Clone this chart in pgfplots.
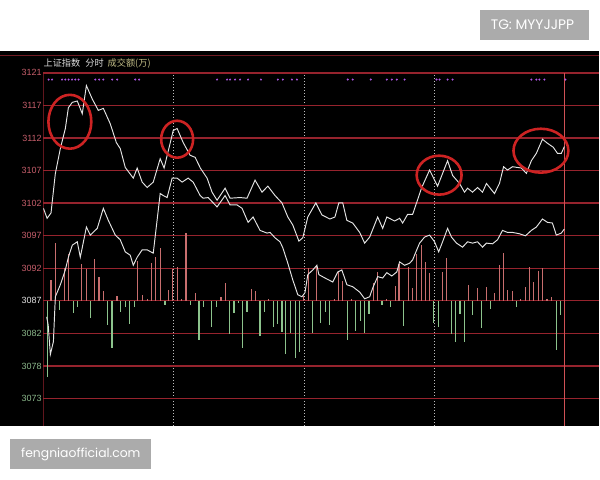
\documentclass[border=0pt]{standalone}
\usepackage{pgfplots}
\pgfplotsset{compat=1.18}
\usepackage{fontspec}
\setmainfont{Liberation Sans}
\newfontfamily\cjk{Noto Sans CJK SC}
\newfontfamily\wm{Poppins}

\definecolor{gridred}{RGB}{150,35,45}
\definecolor{basered}{RGB}{200,50,55}
\definecolor{labred}{RGB}{200,95,108}
\definecolor{labgreen}{RGB}{140,185,140}
\definecolor{barred}{RGB}{200,110,110}
\definecolor{bargreen}{RGB}{140,195,140}
\definecolor{dotpurple}{RGB}{175,85,230}
\definecolor{khaki}{RGB}{195,190,135}
\definecolor{wmgray}{RGB}{171,171,171}
\definecolor{linew}{RGB}{228,228,228}
\definecolor{ringred}{RGB}{205,35,35}

\begin{document}
\begin{tikzpicture}[x=1pt,y=1pt]
% page and black screen
\fill[white] (0,0) rectangle (600,480);
\fill[black] (0,53) rectangle (600,429);
\draw[gridred!75!black, line width=1pt] (0,424.5) -- (600,424.5);

% volume bars, grid and price labels (offsets from 3087)
\begin{axis}[
    at={(43pt,53pt)}, anchor=south west, scale only axis,
    width=557pt, height=354pt,
    xmin=0, xmax=256.1, ymin=-18.7, ymax=34,
    axis line style={draw=none}, major tick length=0pt,
    xtick={60,120,180}, xticklabels={},
    xmajorgrids, x grid style={gray!50, line width=0.7pt, dash pattern=on 1pt off 2pt},
    ytick={-14.571,-9.714,-4.857,4.857,9.714,14.571,19.429,24.286,29.143,34},
    yticklabels={\textcolor{labgreen}{3073},\textcolor{labgreen}{3078},\textcolor{labgreen}{3082},
      \textcolor{labred}{3092},\textcolor{labred}{3097},\textcolor{labred}{3102},\textcolor{labred}{3107},
      \textcolor{labred}{3112},\textcolor{labred}{3117},\textcolor{labred}{3121}},
    extra y ticks={0}, extra y tick labels={\textcolor{linew}{3087}},
    extra y tick style={major grid style={basered, line width=1.4pt}},
    ymajorgrids, y grid style={gridred, line width=1.4pt},
    yticklabel style={font=\fontsize{9}{9}\selectfont, inner sep=1.5pt},
    /pgf/number format/assume math mode=true,
]
\draw[gridred, line width=1.3pt] (rel axis cs:0,0) -- (rel axis cs:0,1);
\draw[basered!85, line width=1.2pt] (axis cs:240,-18.7) -- (axis cs:240,34);
\addplot[ycomb, barred, line width=1.1pt] coordinates {
(3.5,3.1) (5.5,8.6) (9.8,4.9) (11.6,7.0) (17.6,5.5) (19.8,4.8) (23.6,6.2) (25.6,3.6)
(27.7,1.4) (33.9,0.7) (43.5,6.0) (45.8,0.9) (47.8,0.3) (50.0,5.6) (51.6,6.5) (53.8,7.9)
(57.8,1.6) (59.6,4.8) (61.7,5.0) (63.8,0.3) (65.7,10.1) (69.9,1.2) (81.8,0.6) (83.7,2.7)
(96.0,1.8) (97.8,1.4) (103.8,0.3) (120.0,0.7) (122.0,4.9) (125.8,5.3) (133.9,0.3)
(135.8,4.5) (137.8,3.0) (141.9,0.3) (151.9,2.7) (153.9,4.3) (158.0,0.3) (162.0,2.2)
(163.8,5.5) (168.0,5.0) (170.0,1.9) (171.8,7.0) (174.1,8.3) (176.1,5.8) (177.9,4.2)
(183.9,4.3) (185.9,6.4) (196.0,2.4) (200.0,1.9) (204.0,2.1) (208.0,1.2) (210.1,5.3)
(212.0,7.1) (214.0,1.6) (216.1,1.4) (219.9,0.2) (221.9,2.1) (223.9,5.0) (225.9,2.8)
(227.9,4.5) (230.0,4.9) (232.0,0.3) (234.0,0.6)
};
\addplot[ycomb, bargreen, line width=1.1pt] coordinates {
(1.7,-11.3) (7.5,-1.3) (13.7,-1.8) (15.8,-0.9) (21.7,-2.5) (29.7,-3.6) (31.6,-7.0)
(35.7,-1.6) (37.7,-0.9) (39.7,-3.4) (41.8,-0.9) (56.0,-0.6) (67.9,-0.6) (71.7,-5.8)
(73.7,-0.9) (77.6,-3.9) (79.9,-0.9) (85.8,-4.9) (87.8,-1.8) (90.0,-0.3) (91.8,-7.0)
(93.8,-1.6) (99.8,-5.2) (101.9,-1.6) (105.9,-3.9) (107.9,-3.4) (109.9,-4.6) (111.7,-7.9)
(113.9,-4.8) (116.0,-8.5) (117.8,-7.7) (123.8,-4.8) (127.8,-3.3) (130.0,-1.6) (132.0,-3.6)
(139.9,-5.9) (143.9,-4.5) (146.1,-3.0) (148.0,-4.8) (150.0,-1.9) (156.0,-0.6) (160.0,-0.9)
(166.0,-3.7) (179.9,-3.3) (182.1,-3.9) (187.9,-4.9) (190.0,-6.1) (191.9,-1.9) (194.0,-6.2)
(197.8,-2.1) (202.0,-4.0) (206.0,-1.2) (217.9,-0.9) (236.2,-7.4) (238.2,-2.1)
};
\end{axis}

% price lines
\begin{axis}[
    at={(43pt,53pt)}, anchor=south west, scale only axis,
    width=557pt, height=354pt,
    xmin=0, xmax=256.1, ymin=3068.3, ymax=3121, hide axis,
]
\addplot[linew, line width=0.95pt] coordinates {
(0,3100.8) (1.7,3099.3) (3.5,3100.1) (5.5,3106.0) (7.8,3109.7) (10.1,3112.7) (11.5,3115.8)
(13.3,3116.6) (15.6,3116.8) (17.9,3114.9) (19.8,3119.1) (22.5,3117.1) (25.3,3115.4)
(27.6,3115.7) (30.8,3113.4) (33.6,3110.6) (35.4,3109.7) (37.7,3106.9) (41.4,3105.3)
(43.2,3106.8) (45.5,3104.7) (47.8,3103.9) (50.6,3104.7) (53.8,3108.2) (55.6,3106.8)
(59.8,3112.4) (61.6,3112.7) (64.4,3110.6) (67.6,3108.7) (69.9,3108.4) (72.3,3106.8)
(75.4,3105.3) (77.7,3103.2) (80.0,3102.0) (83.7,3103.8) (86.0,3102.3) (90.6,3102.4)
(93.8,3102.3) (97.5,3105.0) (100.7,3103.2) (103.4,3104.1) (106.7,3102.7) (109.9,3101.6)
(112.6,3099.5) (114.9,3098.3) (117.7,3095.9) (119.5,3096.4) (121.8,3099.5) (125.5,3101.6)
(128.3,3099.8) (132.0,3099.2) (134.3,3099.5) (136.1,3101.6) (137.9,3101.6) (139.8,3099.0)
(142.5,3098.6) (145.7,3097.2) (148.0,3095.6) (150.3,3096.5) (154.0,3099.5) (156.3,3097.8)
(158.2,3099.5) (161.8,3098.9) (164.1,3099.3) (165.5,3098.6) (167.8,3099.9) (170.1,3099.9)
(172.0,3101.7) (174.3,3103.9) (177.9,3106.5) (181.6,3104.1) (186.2,3107.9) (188.5,3105.7)
(191.7,3104.5) (194.0,3103.2) (195.4,3103.8) (197.7,3103.2) (200.0,3103.9) (202.3,3103.2)
(204.1,3104.5) (207.8,3103.0) (210.1,3104.5) (212.0,3107.0) (213.8,3106.5) (216.1,3107.0)
(220.2,3106.8) (222.5,3106.0) (224.8,3107.9) (227.1,3109.0) (229.9,3111.1) (232.2,3110.5)
(234.9,3109.9) (236.8,3109.0) (238.6,3109.0) (240.0,3110.0)
};
\addplot[linew, line width=0.95pt] coordinates {
(1.5,3084.6) (2.2,3083.4) (3.2,3079.0) (4.6,3080.9) (5.5,3087.6) (7.8,3089.4) (10.1,3091.6)
(11.5,3093.5) (13.3,3095.3) (15.6,3095.8) (17.0,3093.5) (19.8,3098.0) (21.6,3096.8)
(24.8,3097.8) (27.6,3100.8) (29.9,3099.0) (33.1,3096.8) (35.4,3096.1) (37.7,3094.3)
(40.0,3093.8) (41.4,3092.3) (43.2,3093.5) (45.5,3094.6) (47.8,3094.6) (50.6,3094.1)
(53.8,3103.0) (55.2,3102.7) (57.0,3102.4) (59.3,3105.3) (61.6,3105.3) (63.9,3104.7)
(66.7,3105.3) (69.0,3104.7) (72.2,3102.7) (73.6,3102.3) (75.9,3102.4) (80.0,3101.0)
(83.7,3102.7) (86.0,3101.3) (89.2,3101.3) (91.5,3100.8) (94.3,3098.7) (96.6,3099.5)
(99.8,3097.5) (103.0,3097.1) (104.4,3097.2) (106.7,3096.4) (109.0,3095.8) (110.3,3094.9)
(112.6,3092.6) (114.9,3090.1) (117.2,3087.9) (119.1,3087.6) (120.5,3088.2) (121.8,3090.9)
(124.1,3091.6) (126.0,3092.3) (126.9,3090.9) (129.7,3090.4) (133.3,3089.8) (135.6,3091.3)
(137.5,3091.6) (139.8,3089.4) (142.5,3089.1) (145.7,3088.3) (148.0,3087.3) (150.3,3087.6)
(151.7,3088.9) (154.0,3090.6) (156.3,3090.4) (158.2,3091.2) (160.5,3090.7) (162.8,3091.3)
(164.1,3092.8) (166.4,3092.3) (168.7,3092.6) (170.1,3093.1) (172.0,3094.6) (173.3,3095.6)
(175.6,3096.5) (177.9,3096.8) (180.2,3095.8) (182.1,3094.3) (183.9,3095.8) (186.2,3097.8)
(188.0,3096.5) (190.3,3095.6) (193.1,3095.0) (195.4,3095.8) (197.7,3095.6) (200.0,3095.8)
(202.3,3095.0) (204.1,3095.6) (206.9,3095.5) (209.2,3096.1) (211.5,3097.5) (213.8,3097.2)
(216.1,3097.2) (219.3,3097.0) (222.1,3096.7) (224.8,3097.5) (227.1,3098.0) (229.9,3099.2)
(232.2,3098.7) (234.5,3098.6) (236.3,3096.8) (238.6,3097.1) (240.0,3097.7)
};
\addplot[only marks, mark=*, mark size=0.8pt, dotpurple] coordinates {
(2.4,3120) (4.0,3120) (8.6,3120) (10.1,3120) (11.6,3120) (13.2,3120) (14.7,3120) (16.2,3120)
(23.9,3120) (25.7,3120) (27.6,3120) (31.7,3120) (34.0,3120) (42.3,3120) (44.1,3120)
(80.0,3120) (84.6,3120) (86.0,3120) (88.3,3120) (90.6,3120) (94.3,3120) (100.2,3120)
(108.0,3120) (110.3,3120) (114.5,3120) (116.8,3120) (140.2,3120) (142.5,3120) (150.8,3120)
(158.2,3120) (160.5,3120) (162.8,3120) (166.4,3120) (181.1,3120) (182.5,3120) (186.2,3120)
(188.5,3120) (224.8,3120) (227.1,3120) (228.5,3120) (230.8,3120) (240.5,3120)
};
\end{axis}

% highlighted peaks
\begin{scope}[ringred, line width=2.6pt]
\draw (69.5,358) ellipse [x radius=21.5, y radius=27];
\draw (177,340.5) ellipse [x radius=16, y radius=18.5];
\draw (439.5,304.5) ellipse [x radius=22.5, y radius=19.5];
\draw (541.5,329) ellipse [x radius=27.5, y radius=22];
\end{scope}

% header
\node[anchor=west, inner sep=0pt] at (43,416)
  {\cjk\fontsize{9.2}{10}\selectfont\textcolor{linew!90!gray}{上证指数\hspace{5pt}分时}\hspace{4pt}\textcolor{khaki}{成交额(万)}};

% watermarks
\fill[wmgray] (480,440) rectangle (590,470);
\node[text=white, inner sep=0pt] at (533,455) {\wm\fontsize{13.8}{14}\selectfont TG: MYYJJPP};
\fill[wmgray] (10,10) rectangle (151,40);
\node[text=white, inner sep=0pt] at (80.5,25) {\wm\fontsize{12.4}{13}\selectfont fengniaofficial.com};
\end{tikzpicture}
\end{document}
